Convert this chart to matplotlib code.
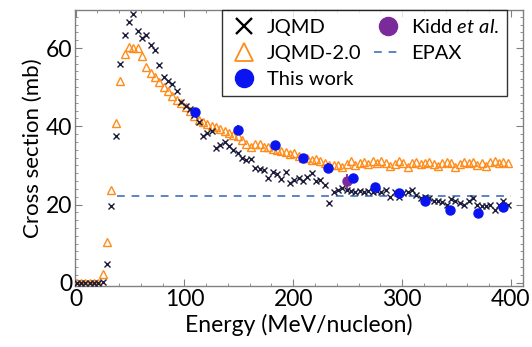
import numpy as np
import matplotlib
matplotlib.use("Agg")
import matplotlib.pyplot as plt
from matplotlib.lines import Line2D
from matplotlib.ticker import MultipleLocator

plt.rcParams["font.family"] = ["Lato", "DejaVu Sans"]
plt.rcParams["mathtext.fontset"] = "custom"
plt.rcParams["mathtext.rm"] = "Lato"
plt.rcParams["mathtext.it"] = "Lato:italic"

# Energy grid of the model calculations (MeV/nucleon)
energy = [1, 5, 9, 13, 17, 21, 25, 29, 33, 37, 41, 45, 49, 53, 57, 61, 65, 69,
          73, 77, 81, 85, 89, 93, 97, 101, 105, 109, 113, 117, 121, 125, 129,
          133, 137, 141, 145, 149, 153, 157, 161, 165, 169, 173, 177, 181,
          185, 189, 193, 197, 201, 205, 209, 213, 217, 221, 225, 229, 233,
          237, 241, 245, 249, 253, 257, 261, 265, 269, 273, 277, 281, 285,
          289, 293, 297, 301, 305, 309, 313, 317, 321, 325, 329, 333, 337,
          341, 345, 349, 353, 357, 361, 365, 369, 373, 377, 381, 385, 389,
          393, 397]

jqmd = [0, 0, 0, 0, 0, 0, 0.3, 4.8, 19.5, 37.5, 56.0, 63.3, 66.7, 68.7, 64.4,
        62.5, 63.3, 60.8, 59.5, 55.6, 52.5, 51.6, 50.8, 49.0, 46.2, 45.2,
        44.5, 42.9, 41.0, 37.4, 38.2, 38.9, 34.4, 35.2, 36.0, 35.0, 34.0,
        33.2, 31.8, 31.4, 31.6, 29.3, 29.2, 28.8, 26.8, 28.4, 27.8, 26.5,
        28.2, 25.6, 26.3, 26.7, 25.9, 27.1, 28.0, 25.9, 26.3, 25.0, 20.3,
        23.3, 23.7, 24.1, 23.7, 23.5, 23.3, 23.5, 23.2, 23.4, 23.3, 23.5,
        23.2, 23.8, 21.8, 23.3, 22.0, 23.0, 23.3, 23.7, 22.4, 21.6, 21.8,
        21.6, 20.8, 20.9, 20.7, 19.9, 21.5, 20.8, 20.4, 19.9, 20.8, 21.6,
        19.9, 19.6, 19.5, 19.9, 18.6, 19.9, 20.8, 19.8]

jqmd2 = [0, 0, 0, 0, 0, 0, 2.2, 10.3, 23.6, 40.8, 51.6, 58.4, 60.2, 60.0,
         60.0, 58.0, 55.2, 53.6, 52.6, 51.4, 50.0, 49.0, 47.8, 46.7, 45.9,
         45.0, 43.8, 42.5, 41.6, 41.0, 40.5, 40.1, 39.8, 39.2, 38.8, 38.4,
         37.8, 37.4, 36.5, 35.5, 34.8, 35.4, 35.4, 34.8, 34.6, 34.2, 34.0,
         33.6, 33.5, 33.0, 33.2, 32.4, 32.0, 32.0, 31.4, 31.6, 31.0, 30.6,
         30.2, 30.0, 30.1, 29.6, 30.3, 31.0, 30.2, 30.6, 30.8, 30.4, 31.0,
         30.6, 31.0, 30.6, 29.8, 30.4, 31.0, 30.6, 29.6, 30.6, 30.8, 30.4,
         30.6, 30.8, 30.4, 29.8, 30.6, 30.8, 30.6, 29.6, 30.4, 30.8, 30.6,
         30.9, 30.2, 30.6, 29.8, 30.8, 31.2, 30.6, 30.8, 30.6]

# Measured cross sections (this work)
exp_energy = [110, 149, 183, 209, 232, 255, 275, 297, 321, 344, 370, 393]
exp_sigma = [43.7, 39.0, 35.2, 31.9, 29.4, 26.7, 24.6, 23.0, 20.9, 18.6,
             17.9, 19.4]
exp_err = [1.0, 1.2, 1.1, 1.1, 1.2, 1.1, 1.0, 1.0, 1.0, 1.0, 1.0, 1.0]

kidd_energy = [249]
kidd_sigma = [25.9]
kidd_err = [2.0]

epax_energy = [38, 400]
epax_sigma = [22.3, 22.3]

fig = plt.figure(figsize=(5.32, 3.47), dpi=100)
ax = fig.add_axes([0.141, 0.176, 0.842, 0.795])

dash = (0, (4, 3.5))
ax.plot(epax_energy, epax_sigma, linestyle=dash, color="#5b86c5",
        linewidth=1.4, zorder=1)
ax.plot(energy, jqmd2, linestyle="none", marker="^", markersize=5.5,
        markerfacecolor="none", markeredgecolor="#ff8c1a",
        markeredgewidth=1.0, zorder=2)
ax.plot(energy, jqmd, linestyle="none", marker="x", markersize=5,
        color="#1c1c3a", markeredgewidth=1.0, zorder=3)
ax.errorbar(exp_energy, exp_sigma, yerr=exp_err, fmt="o", markersize=6.5,
            color="#0a14f0", ecolor="#0a14f0", elinewidth=1.3, capsize=0,
            zorder=5)
ax.errorbar(kidd_energy, kidd_sigma, yerr=kidd_err, fmt="o", markersize=6.5,
            color="#7b2a9a", ecolor="#7b2a9a", elinewidth=1.3, capsize=0,
            zorder=4)

ax.set_xlim(-0.5, 411)
ax.set_ylim(-0.8, 69.7)
ax.xaxis.set_major_locator(MultipleLocator(100))
ax.xaxis.set_minor_locator(MultipleLocator(20))
ax.yaxis.set_major_locator(MultipleLocator(20))
ax.yaxis.set_minor_locator(MultipleLocator(2))
ax.tick_params(which="both", direction="in", top=True, right=True,
               color="#808080", labelsize=16.5, pad=2)
ax.tick_params(which="major", length=5)
ax.tick_params(which="minor", length=2.5)
for sp in ax.spines.values():
    sp.set_color("#808080")
    sp.set_linewidth(1.0)

ax.set_xlabel("Energy (MeV/nucleon)", fontsize=16.5, labelpad=3)
ax.set_ylabel("Cross section (mb)", fontsize=16, labelpad=2)

handles = [
    Line2D([], [], linestyle="none", marker="x", markersize=11,
           color="black", markeredgewidth=1.7),
    Line2D([], [], linestyle="none", marker="^", markersize=13,
           markerfacecolor="none", markeredgecolor="#ff8c1a",
           markeredgewidth=1.3),
    Line2D([], [], linestyle="none", marker="o", markersize=13,
           color="#0a14f0"),
    Line2D([], [], linestyle="none", marker="o", markersize=13,
           color="#7b2a9a"),
    Line2D([], [], linestyle=dash, color="#5b86c5", linewidth=1.4),
]
labels = ["JQMD", "JQMD-2.0", "This work", "Kidd $\\it{et\\ al.}$", "EPAX"]
leg = ax.legend(handles, labels, ncol=2, loc="upper right",
                bbox_to_anchor=(0.965, 1.0), fontsize=14.5, frameon=True,
                fancybox=False, edgecolor="black", handlelength=1.4,
                handletextpad=0.45, columnspacing=0.6, labelspacing=0.45,
                borderpad=0.4, borderaxespad=0)
leg.get_frame().set_linewidth(1.0)
leg.set_zorder(10)

fig.savefig("out.png", dpi=100)
